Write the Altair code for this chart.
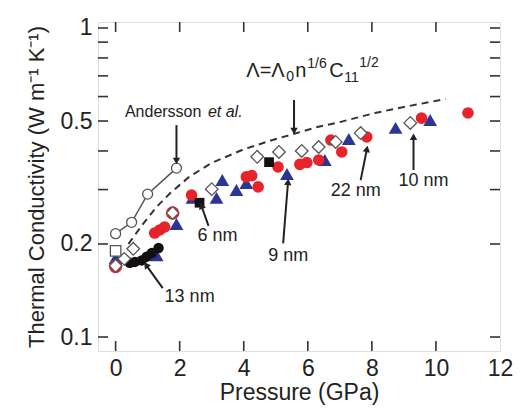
import altair as alt
import pandas as pd

# ---------------- data ----------------
red_p = [1.22, 1.38, 1.53, 2.37, 4.08, 4.25, 4.45, 5.07, 5.75, 5.97, 6.34, 6.72, 7.06, 7.84, 9.55, 11.0]
red_k = [0.217, 0.222, 0.227, 0.288, 0.330, 0.333, 0.306, 0.355, 0.362, 0.367, 0.374, 0.434, 0.397, 0.444, 0.511, 0.531]

ring_p = [0.0, 1.78]
ring_k = [0.169, 0.252]

blue_p = [0.0, 1.28, 1.9, 2.40, 3.15, 3.33, 3.77, 4.08, 5.35, 6.53, 7.28, 8.74, 9.82]
blue_k = [0.180, 0.184, 0.232, 0.282, 0.282, 0.322, 0.299, 0.315, 0.337, 0.374, 0.437, 0.475, 0.504]

dia_p = [0.0, 0.27, 0.55, 1.78, 3.0, 4.42, 5.10, 5.81, 6.34, 6.87, 7.65, 9.2]
dia_k = [0.170, 0.179, 0.193, 0.252, 0.301, 0.383, 0.397, 0.400, 0.412, 0.428, 0.457, 0.493]

bsq_p = [2.62, 4.79]
bsq_k = [0.272, 0.368]

bci_p = [0.44, 0.60, 0.81, 0.97, 1.13, 1.34]
bci_k = [0.174, 0.175, 0.177, 0.182, 0.187, 0.194]

osq_p = [0.0]
osq_k = [0.190]

and_p = [0.0, 0.5, 1.0, 1.9]
and_k = [0.216, 0.235, 0.290, 0.352]

model_p = [0.4, 0.85, 1.3, 1.7, 2.3, 3.0, 4.0, 4.9, 6.3, 7.0, 8.1, 9.0, 10.3]
model_k = [0.200, 0.232, 0.265, 0.292, 0.330, 0.366, 0.405, 0.434, 0.478, 0.496, 0.531, 0.555, 0.589]

x_ticks = [0, 2, 4, 6, 8, 10]
x_labels = [0, 2, 4, 6, 8, 10, 12]
y_labels = [0.1, 0.2, 0.5, 1]
y_minor = [0.3, 0.4, 0.6, 0.7, 0.8, 0.9]

labels_text = ["6 nm", "9 nm", "22 nm", "10 nm", "13 nm"]
labels_p = [3.18, 5.39, 7.5, 9.61, 2.31]
labels_k = [0.213, 0.183, 0.297, 0.320, 0.135]

arrow_tail_p = [1.9, 5.57, 2.90, 5.23, 7.65, 9.30, 1.47]
arrow_tail_k = [0.485, 0.585, 0.229, 0.201, 0.322, 0.347, 0.144]
arrow_head_p = [1.9, 5.57, 2.69, 5.38, 7.84, 9.30, 0.97]
arrow_head_k = [0.374, 0.468, 0.264, 0.315, 0.403, 0.441, 0.170]
arrow_angle = [180, 180, 340, 5, 11, 0, 324]

# ---------------- layout ----------------
W, H = 402, 329
FONT = "Liberation Sans"
INK = "#222222"
RED = "#e8232b"
BLUE = "#2c3594"

xscale = alt.Scale(domain=[-0.55, 12], nice=False, zero=False)
yscale = alt.Scale(type="log", domain=[0.0901, 1.0457], nice=False)

xaxis = alt.Axis(values=x_labels, ticks=False, domain=False, grid=False,
                 labelFont=FONT, labelFontSize=23, labelColor=INK, labelPadding=6,
                 labelFlush=False, labelOverlap=False,
                 title="Pressure (GPa)", titleFont=FONT, titleFontSize=23,
                 titleFontWeight="normal", titleColor=INK, titlePadding=1)
yaxis = alt.Axis(values=y_labels, format="~g", ticks=False, domain=False, grid=False,
                 labelFont=FONT, labelFontSize=23, labelColor=INK, labelPadding=6,
                 labelOverlap=False,
                 title="Thermal Conductivity (W m⁻¹ K⁻¹)", titleFont=FONT, titleFontSize=22,
                 titleFontWeight="normal", titleColor=INK, titlePadding=12)


def X(f):
    return alt.X(f"{f}:Q", scale=xscale, axis=xaxis)


def Y(f):
    return alt.Y(f"{f}:Q", scale=yscale, axis=yaxis)


def df(p, k):
    return pd.DataFrame({"p": p, "k": k})


# ticks (inward, on all four sides)
xt = pd.DataFrame({"p": x_ticks})
yt = pd.DataFrame({"k": y_labels + y_minor})
tick_b = alt.Chart(xt).mark_rule(color="#333", strokeWidth=1.6).encode(
    x=X("p"), y=alt.value(H), y2=alt.value(H - 10))
tick_t = alt.Chart(xt).mark_rule(color="#333", strokeWidth=1.6).encode(
    x=X("p"), y=alt.value(0), y2=alt.value(10))
tick_l = alt.Chart(yt).mark_rule(color="#333", strokeWidth=1.6).encode(
    y=Y("k"), x=alt.value(0), x2=alt.value(10))
tick_r = alt.Chart(yt).mark_rule(color="#333", strokeWidth=1.6).encode(
    y=Y("k"), x=alt.value(W - 10), x2=alt.value(W))

model = alt.Chart(df(model_p, model_k)).mark_line(
    color="#333", strokeWidth=2, strokeDash=[7, 5]).encode(x=X("p"), y=Y("k"))

blue = alt.Chart(df(blue_p, blue_k)).mark_point(
    shape="triangle-up", filled=True, color=BLUE, size=190, opacity=1).encode(x=X("p"), y=Y("k"))
red = alt.Chart(df(red_p, red_k)).mark_point(
    shape="circle", filled=True, color=RED, size=135, opacity=1).encode(x=X("p"), y=Y("k"))
ring = alt.Chart(df(ring_p, ring_k)).mark_point(
    shape="circle", filled=False, color=RED, strokeWidth=2.6, size=115, opacity=1).encode(x=X("p"), y=Y("k"))
bsq = alt.Chart(df(bsq_p, bsq_k)).mark_point(
    shape="square", filled=True, color="#111", size=95, opacity=1).encode(x=X("p"), y=Y("k"))
bci = alt.Chart(df(bci_p, bci_k)).mark_point(
    shape="circle", filled=True, color="#111", size=110, opacity=1).encode(x=X("p"), y=Y("k"))
dia = alt.Chart(df(dia_p, dia_k)).mark_point(
    shape="diamond", filled=True, fill="white", stroke="#555", strokeWidth=1.3,
    size=160, opacity=1).encode(x=X("p"), y=Y("k"))
osq = alt.Chart(df(osq_p, osq_k)).mark_point(
    shape="square", filled=True, fill="white", stroke="#555", strokeWidth=1.3,
    size=110, opacity=1).encode(x=X("p"), y=Y("k"))

and_line = alt.Chart(df(and_p, and_k)).mark_line(color="#555", strokeWidth=1.5).encode(
    x=X("p"), y=Y("k"))
and_pts = alt.Chart(df(and_p, and_k)).mark_point(
    shape="circle", filled=True, fill="white", stroke="#555", strokeWidth=1.3,
    size=100, opacity=1).encode(x=X("p"), y=Y("k"))

arrows_df = pd.DataFrame({"tp": arrow_tail_p, "tk": arrow_tail_k,
                          "hp": arrow_head_p, "hk": arrow_head_k, "ang": arrow_angle})
arrow_lines = alt.Chart(arrows_df).mark_rule(color=INK, strokeWidth=2).encode(
    x=X("tp"), y=Y("tk"), x2="hp:Q", y2="hk:Q")
arrow_heads = alt.Chart(arrows_df).mark_point(
    shape="triangle", filled=True, color=INK, size=55, opacity=1).encode(
    x=X("hp"), y=Y("hk"), angle=alt.Angle("ang:Q", scale=None))

nm_labels = alt.Chart(pd.DataFrame({"p": labels_p, "k": labels_k, "t": labels_text})).mark_text(
    font=FONT, fontSize=18, color=INK, align="center", baseline="middle").encode(
    x=X("p"), y=Y("k"), text="t:N")

# "Andersson et al."
and_anchor = df([0.29], [0.535])
and_txt1 = alt.Chart(and_anchor).mark_text(
    font=FONT, fontSize=16, color=INK, align="left", baseline="middle", text="Andersson").encode(
    x=X("p"), y=Y("k"))
and_txt2 = alt.Chart(and_anchor).mark_text(
    font=FONT, fontSize=16, color=INK, align="left", baseline="middle", fontStyle="italic",
    text="et al.", dx=83).encode(x=X("p"), y=Y("k"))

# formula  Λ=Λ0 n^(1/6) C11^(1/2)
f_anchor = df([4.08], [0.694])
formula_parts = [("Λ=Λ", 0, 0, 20), ("0", 40, 4, 14), ("n", 49, 0, 20), ("1/6", 61, -9, 14),
                 ("C", 83, 0, 20), ("11", 98, 5, 14), ("1/2", 113, -10, 14)]
formula_layers = [
    alt.Chart(f_anchor).mark_text(font=FONT, fontSize=fs, color=INK, align="left",
                                  baseline="alphabetic", text=t, dx=dx, dy=dy).encode(
        x=X("p"), y=Y("k"))
    for (t, dx, dy, fs) in formula_parts
]

chart = alt.layer(
    tick_b, tick_t, tick_l, tick_r, model, and_line, and_pts,
    blue, red, ring, bci, bsq, dia, osq,
    arrow_lines, arrow_heads, nm_labels, and_txt1, and_txt2, *formula_layers
).properties(
    width=W, height=H,
    autosize=alt.AutoSizeParams(type="none"),
    padding={"left": 98, "top": 22, "right": 25, "bottom": 65},
).configure_view(stroke="#333", strokeWidth=1.8).configure(background="white")

chart.save("out.html", embed_options={"renderer": "svg", "actions": False})
